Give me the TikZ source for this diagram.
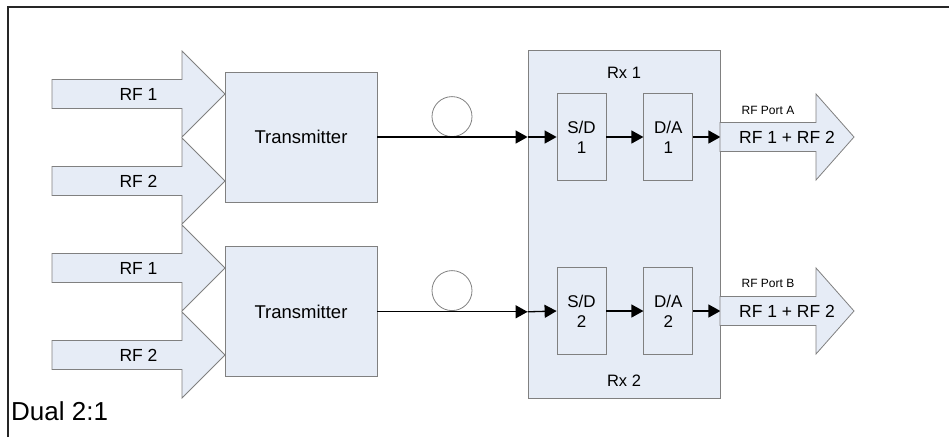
\documentclass[tikz,border=0pt]{standalone}
\usepackage{fontspec}
\setmainfont{Liberation Sans}
\usetikzlibrary{positioning}
\usetikzlibrary{arrows.meta}

\definecolor{boxfill}{RGB}{230,236,246}
\definecolor{boxline}{RGB}{128,128,128}

% block arrow with its label node: name, x start, y centre, body, head, text
\newcommand{\blockarrow}[6]{%
   \draw[blockarrow] (#2,#3-14.5) -- ++(#4,0) -- ++(0,-28.5) -- ++(#5,43)
      -- ++(-#5,43) -- ++(0,-28.5) -- ++(-#4,0) -- cycle;
   \node[rftext] (#1) at (#2+0.5*#4+0.5*#5,#3) {#6};
}

\begin{document}
\begin{tikzpicture}[x=1pt,y=-1pt,
         blockarrow/.style = {draw=boxline, fill=boxfill, line width=0.8pt},
         rftext/.style = {inner sep=0pt, font=\fontsize{17.5}{20}\selectfont},
         txbox/.style = {draw=boxline, fill=boxfill, line width=0.8pt,
            minimum width=152pt, minimum height=130pt,
            font=\fontsize{18.5}{21}\selectfont},
         rxbox/.style = {draw=boxline, fill=boxfill, line width=0.8pt,
            minimum width=192pt, minimum height=348pt},
         stage/.style = {draw=boxline, fill=boxfill, line width=0.8pt,
            minimum width=49pt, minimum height=87pt, align=center,
            inner sep=0pt, font=\fontsize{17}{20}\selectfont},
         loopring/.style = {draw=gray, line width=0.8pt, circle,
            minimum size=40pt, inner sep=0pt},
         sig/.style = {line width=1.3pt, -{Triangle[length=12pt,width=13pt]}},
         small/.style = {inner sep=0pt, font=\fontsize{12}{14}\selectfont}
]
   \useasboundingbox (0,0) rectangle (949,437);

   % frame
   \draw[line width=2pt, black!85] (8,437) -- (8,7) -- (949,7);

   % inputs
   \blockarrow{in11}{52}{94}{130}{43}{RF 1}
   \blockarrow{in12}{52}{181}{130}{43}{RF 2}
   \blockarrow{in21}{52}{268}{130}{43}{RF 1}
   \blockarrow{in22}{52}{355}{130}{43}{RF 2}

   % transmitters
   \node[txbox]                     (tx1) at (301,137) {Transmitter};
   \node[txbox, below=44pt of tx1]  (tx2) {Transmitter};

   % receiver
   \node[rxbox] (rx) at (624,224) {};
   \node[rftext, font=\fontsize{16.5}{19}\selectfont] (rx1) at (624,73) {Rx 1};
   \node[rftext, font=\fontsize{16.5}{19}\selectfont] (rx2) at (624,381) {Rx 2};

   \node[stage]                     (sd1) at (581.5,137) {S/D\\1};
   \node[stage, right=37pt of sd1]  (da1) {D/A\\1};
   \node[stage]                     (sd2) at (581.5,311) {S/D\\2};
   \node[stage, right=37pt of sd2]  (da2) {D/A\\2};

   % fibre loops
   \node[loopring, anchor=south] (loop1) at (452,137) {};
   \node[loopring, anchor=south] (loop2) at (452,311) {};

   % links
   \draw[sig] (tx1.east) -- (tx1.east -| rx.west);
   \draw[sig] (tx1.east -| rx.west) -- (sd1.west);
   \draw[sig] (sd1) -- (da1);
   \draw[sig] (da1.east) -- (da1.east -| rx.east);

   \draw[sig] (tx2.east) -- (tx2.east -| rx.west);
   \draw[sig] (tx2.east -| rx.west) -- (sd2.west);
   \draw[sig] (sd2) -- (da2);
   \draw[sig] (da2.east) -- (da2.east -| rx.east);

   % outputs
   \blockarrow{outA}{720}{137}{96}{38}{RF 1 + RF 2}
   \blockarrow{outB}{720}{311}{96}{38}{RF 1 + RF 2}
   \node[small] (portA) at (768,110) {RF Port A};
   \node[small] (portB) at (768,283) {RF Port B};

   \node[inner sep=0pt, anchor=base west, font=\fontsize{26}{30}\selectfont]
      (title) at (11,420) {Dual 2:1};
\end{tikzpicture}
\end{document}
